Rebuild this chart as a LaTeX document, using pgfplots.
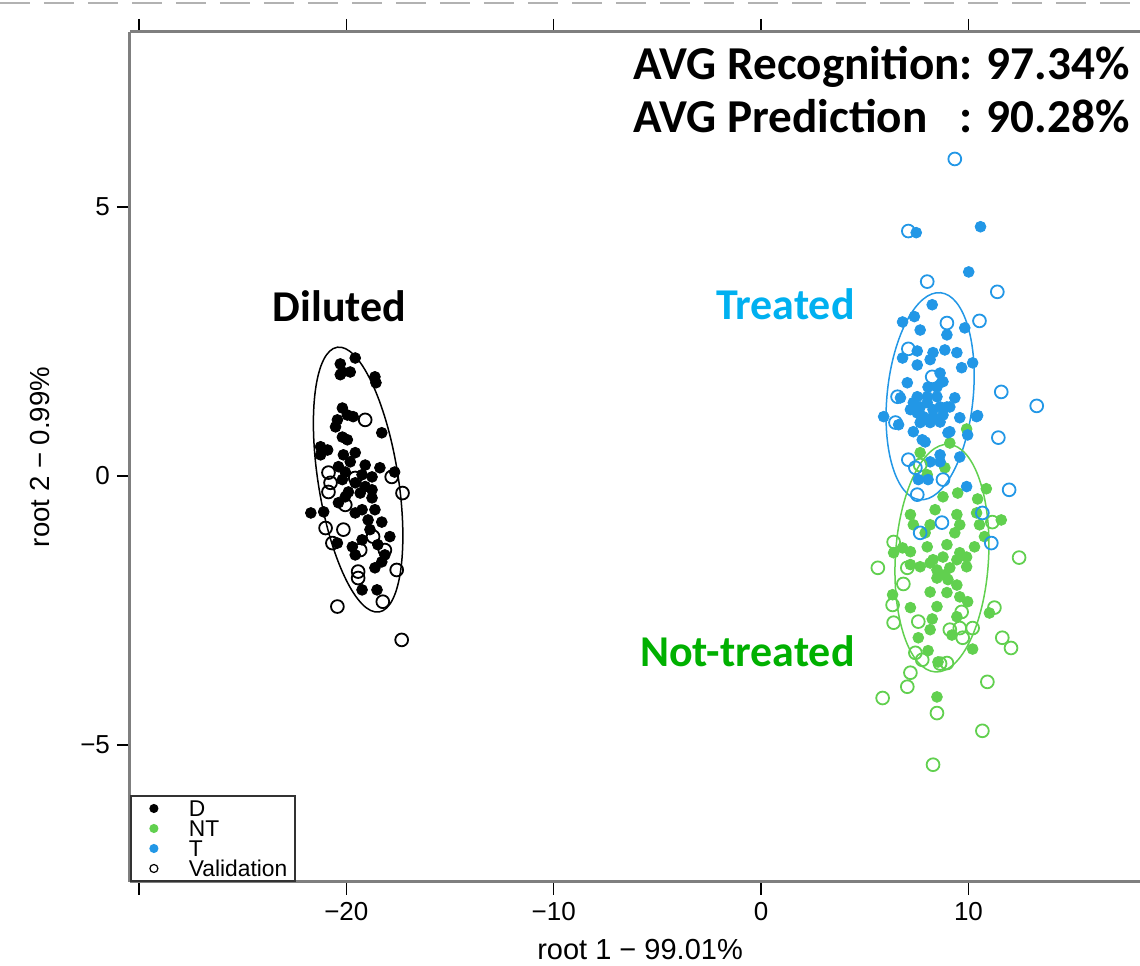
\documentclass[border=0pt]{standalone}
\usepackage{pgfplots}
\pgfplotsset{compat=1.18}
\usepackage{fontspec}
\usepackage{calc}
\setmainfont{Liberation Sans}
\newfontfamily\calibri{Carlito}
\definecolor{rblack}{HTML}{000000}
\definecolor{rgreen}{HTML}{61D04F}
\definecolor{rblue}{HTML}{2297E6}
\definecolor{txtblue}{HTML}{00B0F0}
\definecolor{txtgreen}{HTML}{00B000}
\definecolor{frame}{HTML}{7F7F7F}

\begin{document}
\begin{tikzpicture}
\begin{axis}[
    scale only axis, width=505pt, height=425pt,
    xmin=-30.43, xmax=18.27, ymin=-7.55, ymax=8.25,
    axis x line=box, axis y line=left,
    axis line style={-, draw=frame, line width=1.5pt},
    every outer x axis line/.append style={-},
    every outer y axis line/.append style={-},
    tick align=outside, major tick length=6.5pt,
    tick style={black, line width=0.75pt},
    xtick={-30,-20,-10,0,10}, xticklabels={,−20,−10,0,10},
    ytick={-5,0,5}, yticklabels={−5,0,5},
    tick label style={font=\fontsize{13}{15}\selectfont},
    xlabel={root 1 − 99.01\%}, ylabel={root 2 − 0.99\%},
    xlabel style={font=\fontsize{14.5}{16}\selectfont, at={(axis description cs:0.505,0)}, anchor=center, yshift=-34pt},
    ylabel style={font=\fontsize{13.8}{16}\selectfont, at={(axis description cs:-0.089,0.5)}, anchor=center},
    clip=false,
    legend style={at={(0,0)}, anchor=south west, draw=black!80, line width=0.9pt,
        font=\fontsize{11.4}{12}\selectfont, inner xsep=2pt, inner ysep=1.8pt,
        row sep=1pt, column sep=0pt,
        nodes={inner ysep=0.45pt, text height=8.1pt, text depth=0pt}},
    legend cell align=left,
    legend image code/.code={\path[draw=none, fill=none] (0pt,-1pt) rectangle (25pt,1pt); \draw[#1] plot coordinates {(9.5pt,0pt)};},
]
% training samples
\addplot[only marks, mark=*, mark size=2.7pt, color=rblack, forget plot] coordinates {
(-19.57,2.19) (-20.29,2.08) (-20.19,1.93) (-19.81,1.93) (-20.29,1.88) (-18.62,1.84)
(-18.57,1.73) (-20.19,1.26) (-20.43,1.04) (-19.95,1.13) (-20.52,0.91) (-19.67,1.10)
(-18.29,0.80) (-20.19,0.72) (-19.95,0.67) (-21.24,0.54) (-20.90,0.48) (-21.24,0.39)
(-20.14,0.39) (-19.57,0.43) (-20.38,0.17) (-20.05,0.07) (-19.24,0.02) (-18.38,0.15)
(-17.67,0.07) (-18.76,-0.02) (-19.57,-0.13) (-19.09,-0.20) (-20.19,-0.07) (-19.90,-0.30)
(-19.33,-0.32) (-18.76,-0.26) (-21.71,-0.69) (-21.09,-0.67) (-20.38,-0.50) (-19.57,-0.69)
(-18.95,-0.82) (-18.29,-0.86) (-18.62,-0.63) (-19.24,-0.63) (-17.90,-1.13) (-20.43,-1.25)
(-19.71,-1.32) (-19.24,-1.19) (-19.57,-1.47) (-18.14,-1.47) (-18.29,-1.60) (-18.62,-1.71)
(-19.24,-2.12) (-18.52,-2.12) (-20.05,-0.39) (-18.76,-0.41) (-19.81,0.26) (-19.09,0.20)
(-18.48,-1.28) (-18.86,-1.00)
};
\addplot[only marks, mark=*, mark size=2.7pt, color=rgreen, forget plot] coordinates {
(9.91,0.87) (9.10,0.61) (7.67,0.43) (8.86,0.15) (8.01,0.02) (9.48,-0.32) (8.77,-0.39)
(10.86,-0.24) (10.44,-0.43) (7.20,-0.72) (8.39,-0.63) (9.44,-0.72) (10.39,-0.69)
(11.58,-0.82) (7.34,-0.91) (8.15,-0.91) (9.58,-0.91) (10.53,-0.91) (7.91,-1.06)
(9.34,-1.06) (6.82,-1.34) (6.39,-1.43) (7.20,-1.41) (8.01,-1.32) (8.96,-1.28)
(9.58,-1.43) (10.29,-1.32) (10.77,-1.13) (8.29,-1.56) (8.77,-1.51) (9.44,-1.56)
(9.91,-1.51) (8.48,-1.75) (9.10,-1.71) (7.67,-1.69) (7.20,-1.65) (8.15,-1.62)
(8.86,-1.84) (9.91,-1.69) (8.48,-1.90) (9.01,-1.93) (8.15,-2.16) (9.44,-2.03)
(8.96,-2.17) (6.34,-2.21) (9.58,-2.25) (9.96,-2.34) (7.20,-2.45) (8.48,-2.43)
(8.25,-2.66) (9.44,-2.62) (11.01,-2.55) (8.15,-2.86) (9.20,-2.96) (7.58,-3.01)
(10.20,-3.22) (8.05,-3.25) (8.53,-3.46) (8.48,-4.11)
};
\addplot[only marks, mark=*, mark size=2.7pt, color=rblue, forget plot] coordinates {
(7.48,4.52) (10.58,4.63) (10.01,3.79) (8.25,3.18) (6.82,2.86) (7.39,2.96) (7.67,2.71)
(8.96,2.62) (9.82,2.75) (7.53,2.32) (8.29,2.29) (8.86,2.34) (9.44,2.29) (6.82,2.19)
(7.53,2.06) (8.15,2.16) (9.67,2.01) (10.20,2.10) (8.63,1.91) (8.77,1.75) (7.05,1.73)
(9.34,1.45) (6.72,1.45) (5.91,1.10) (10.39,1.10) (9.58,1.08) (6.63,0.95) (7.34,0.82)
(9.01,0.80) (9.96,0.76) (7.91,0.63) (9.58,0.35) (8.63,0.39)
(7.34,1.36) (7.67,1.28) (8.01,1.36) (8.29,1.23) (8.63,1.28) (7.53,1.17) (7.82,1.10)
(8.29,1.10) (8.77,1.13) (9.10,1.28) (8.01,1.47) (8.48,1.47) (8.15,0.99) (8.63,1.00)
(7.67,0.99) (7.20,1.23) (8.05,1.65) (8.48,1.65) (8.96,1.28) (7.53,1.47)
(7.77,0.67) (9.10,0.82) (10.44,1.12) (8.15,0.26) (8.63,0.26) (7.58,-0.07) (8.05,-0.07)
(9.91,-0.20)
};
% group ellipses
\draw[rblack, line width=0.75pt, rotate around={9:(axis cs:-19.43,-0.07)}]
    (axis cs:-19.43,-0.07) ellipse [x radius=20pt, y radius=67pt];
\draw[rblue, line width=0.75pt, rotate around={-5.8:(axis cs:8.15,1.48)}]
    (axis cs:8.15,1.48) ellipse [x radius=21.5pt, y radius=52pt];
\draw[rgreen, line width=0.75pt, rotate around={-3.3:(axis cs:8.72,-1.53)}]
    (axis cs:8.72,-1.53) ellipse [x radius=23.3pt, y radius=57pt];
% validation samples
\addplot[only marks, mark=o, mark size=3.2pt, line width=0.9pt, color=rblack, forget plot] coordinates {
(-19.09,1.04) (-20.86,0.06) (-20.76,-0.13) (-20.86,-0.30) (-17.81,-0.02) (-17.29,-0.32)
(-21.00,-0.97) (-20.14,-1.00) (-18.71,-1.13) (-20.67,-1.25) (-19.33,-1.38) (-18.14,-1.38)
(-17.57,-1.75) (-19.43,-1.78) (-19.43,-1.90) (-18.24,-2.34) (-20.43,-2.43) (-17.33,-3.05)
(-20.05,-0.54) (-19.57,-0.04)
};
\addplot[only marks, mark=o, mark size=3.2pt, line width=0.9pt, color=rgreen, forget plot] coordinates {
(6.39,-1.23) (5.63,-1.71) (7.05,-1.71) (12.44,-1.52) (11.15,-0.86) (6.86,-2.01)
(6.34,-2.40) (6.39,-2.73) (7.58,-2.71) (9.67,-2.53) (11.25,-2.45) (9.10,-2.86)
(9.58,-2.83) (10.20,-2.83) (9.72,-3.01) (11.63,-3.01) (12.05,-3.20) (7.44,-3.29)
(7.77,-3.42) (8.63,-3.49) (8.96,-3.48) (7.20,-3.66) (7.05,-3.92) (5.86,-4.13)
(10.91,-3.83) (8.48,-4.41) (10.67,-4.74) (8.29,-5.37) (7.67,0.20)
};
\addplot[only marks, mark=o, mark size=3.2pt, line width=0.9pt, color=rblue, forget plot] coordinates {
(9.34,5.89) (7.10,4.55) (8.01,3.61) (11.39,3.42) (10.53,2.88) (8.96,2.84) (11.58,1.56)
(13.29,1.30) (11.44,0.71) (7.10,2.36) (8.25,1.84) (6.58,1.47) (6.48,0.99) (7.10,0.30)
(7.44,0.15) (8.77,-0.07) (7.53,-0.35) (11.96,-0.26) (10.67,-0.69) (8.72,-0.87)
(7.67,-1.06) (11.10,-1.25)
};
% legend
\addlegendimage{only marks, mark=*, mark size=1.8pt, color=rblack}
\addlegendentry{D}
\addlegendimage{only marks, mark=*, mark size=1.8pt, color=rgreen}
\addlegendentry{NT}
\addlegendimage{only marks, mark=*, mark size=1.8pt, color=rblue}
\addlegendentry{T}
\addlegendimage{only marks, mark=o, mark size=2pt, line width=0.6pt, color=rblack}
\addlegendentry{Validation\hspace{7pt}}
% annotations
\node[anchor=base west, inner sep=0pt, font=\fontsize{23.6}{28}\selectfont\calibri\bfseries] at (axis cs:-6.17,7.36) {AVG Recognition: 97.34\%};
\node[anchor=base west, inner sep=0pt, font=\fontsize{23.6}{28}\selectfont\calibri\bfseries] at (axis cs:-6.17,6.38) {\makebox[\widthof{AVG Recognition}][l]{AVG Prediction}: 90.28\%};
\node[anchor=base west, inner sep=0pt, font=\fontsize{22}{26}\selectfont\calibri\bfseries, text=black] at (axis cs:-23.57,2.86) {Diluted};
\node[anchor=base east, inner sep=0pt, font=\fontsize{22}{26}\selectfont\calibri\bfseries, text=txtblue] at (axis cs:4.53,2.90) {Treated};
\node[anchor=base east, inner sep=0pt, font=\fontsize{22}{26}\selectfont\calibri\bfseries, text=txtgreen] at (axis cs:4.53,-3.55) {Not-treated};
% dashed rule along the top edge
\draw[black!30, line width=1.3pt, dash pattern=on 15pt off 7pt] (axis cs:-36.7,8.79) -- (axis cs:18.27,8.79);
\coordinate (bl) at (rel axis cs:0,0);
\coordinate (tr) at (rel axis cs:1,1);
\end{axis}
\pgfresetboundingbox
\path[use as bounding box] ([xshift=-65pt,yshift=-42pt]bl) rectangle ([yshift=16pt]tr);
\end{tikzpicture}
\end{document}
